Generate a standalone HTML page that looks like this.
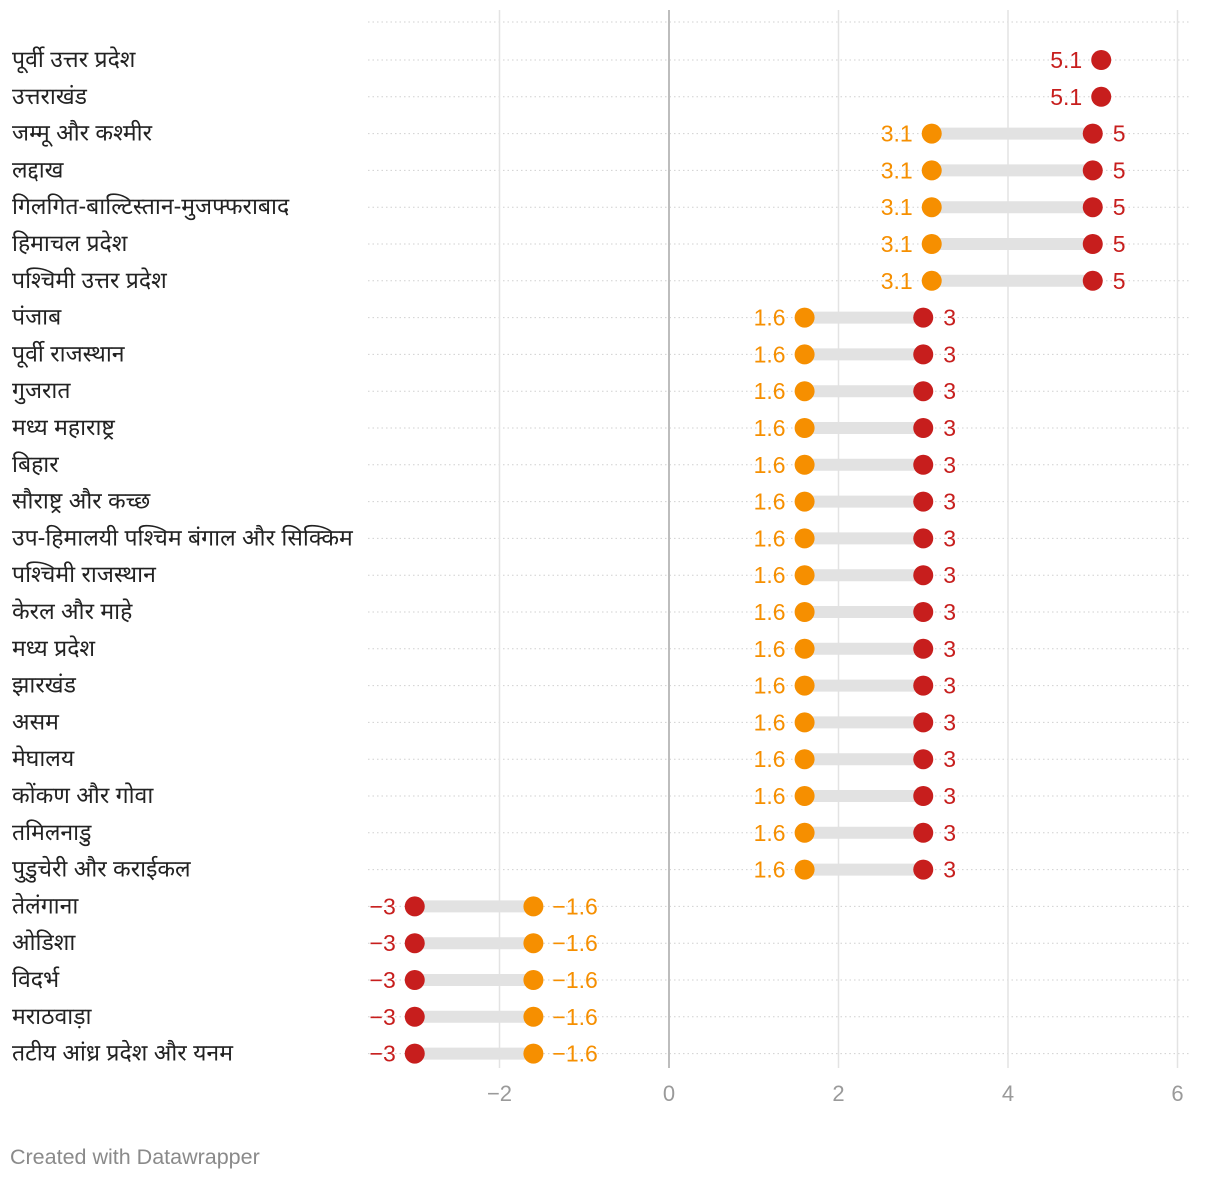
<!DOCTYPE html>
<html><head><meta charset="utf-8"><style>
body{margin:0;background:#fff;width:1220px;height:1180px;overflow:hidden;font-family:"Liberation Sans","Noto Sans CJK SC",sans-serif}
</style></head><body>
<svg id="chart" width="1220" height="1180" xmlns="http://www.w3.org/2000/svg"></svg>
<script>
const categories=["पूर्वी उत्तर प्रदेश","उत्तराखंड","जम्मू और कश्मीर","लद्दाख","गिलगित-बाल्टिस्तान-मुजफ्फराबाद","हिमाचल प्रदेश","पश्चिमी उत्तर प्रदेश","पंजाब","पूर्वी राजस्थान","गुजरात","मध्य महाराष्ट्र","बिहार","सौराष्ट्र और कच्छ","उप-हिमालयी पश्चिम बंगाल और सिक्किम","पश्चिमी राजस्थान","केरल और माहे","मध्य प्रदेश","झारखंड","असम","मेघालय","कोंकण और गोवा","तमिलनाडु","पुडुचेरी और कराईकल","तेलंगाना","ओडिशा","विदर्भ","मराठवाड़ा","तटीय आंध्र प्रदेश और यनम"];
const redValues=[5.1,5.1,5,5,5,5,5,3,3,3,3,3,3,3,3,3,3,3,3,3,3,3,3,-3,-3,-3,-3,-3];
const orangeValues=[null,null,3.1,3.1,3.1,3.1,3.1,1.6,1.6,1.6,1.6,1.6,1.6,1.6,1.6,1.6,1.6,1.6,1.6,1.6,1.6,1.6,1.6,-1.6,-1.6,-1.6,-1.6,-1.6];
const ticks=[-2,0,2,4,6];
const tickLabels=["−2","0","2","4","6"];
const NS="http://www.w3.org/2000/svg",svg=document.getElementById('chart');
const x=v=>669+v*84.75, y=i=>60+i*36.8;
function el(t,a,txt){const e=document.createElementNS(NS,t);for(const k in a)e.setAttribute(k,a[k]);if(txt!=null)e.textContent=txt;svg.appendChild(e);return e;}
const RED="#c71e1d",OR="#f68f00";
const fmt=v=>(v<0?"−":"")+Math.abs(v);
for(let i=-1;i<categories.length;i++){const g=el('line',{x1:368,x2:1190,y1:i<0?22:y(i),y2:i<0?22:y(i),stroke:'#d0d0d0','stroke-dasharray':'1.5,3','stroke-width':1});
}
ticks.forEach((t,k)=>{const l=el('line',{x1:x(t),x2:x(t),y1:10,y2:1068,stroke:t===0?'#bdbdbd':'#e3e3e3','stroke-width':t===0?2:1.5});

const tx=el('text',{x:x(t),y:1101,'text-anchor':'middle','font-size':22,fill:'#9a9a9a'},tickLabels[k]);
});
categories.forEach((c,i)=>{const cy=y(i);
const lb=el('text',{x:12,y:cy+7,'font-size':23,fill:'#222'},c);

const r=redValues[i],o=orangeValues[i];
if(o!=null){const b=el('line',{x1:x(Math.min(r,o)),x2:x(Math.max(r,o)),y1:cy,y2:cy,stroke:'#e2e2e2','stroke-width':12});

const oc=el('circle',{cx:x(o),cy:cy,r:10,fill:OR});

const ol=el('text',{x:o<r?x(o)-19:x(o)+19,y:cy+8,'font-size':23,fill:OR,'text-anchor':o<r?'end':'start'},fmt(o));
}
const rc=el('circle',{cx:x(r),cy:cy,r:10,fill:RED});

const right=(o==null)?false:r>o;
const rl=el('text',{x:right?x(r)+20:x(r)-19,y:cy+8,'font-size':23,fill:RED,'text-anchor':right?'start':'end'},fmt(r));
});
const f=el('text',{x:10,y:1164,'font-size':21.5,fill:'#8a8a8a'},'Created with Datawrapper');

</script>
</body></html>
